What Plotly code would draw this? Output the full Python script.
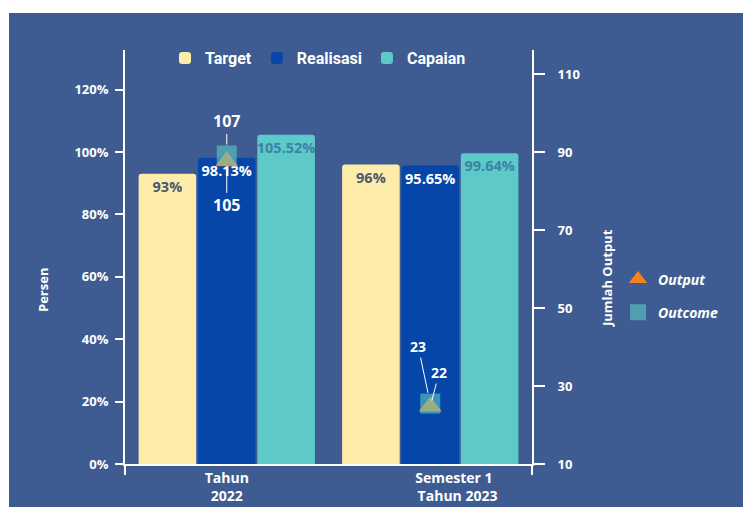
import plotly.graph_objects as go

# ---- data -------------------------------------------------------------
categories = ["Tahun 2022", "Semester 1 Tahun 2023"]
category_labels = [
    "Tahun<br>2022",
    "\u00a0" * 13 + "Semester 1<br>" + "\u00a0" * 15 + "Tahun 2023",
]
target = [93, 96]
realisasi = [98.13, 95.65]
capaian = [105.52, 99.64]
output_count = [105, 22]
outcome_count = [107, 23]
pct_ticks = [0, 20, 40, 60, 80, 100, 120]
count_ticks = [10, 30, 50, 70, 90, 110]

# ---- styling ----------------------------------------------------------
BG = "#3e5c92"
WHITE = "#ffffff"
FONT = "Open Sans"

W, H = 743, 507
ML, MR, MT, MB = 125, 211, 50, 43
PW, PH = W - ML - MR, H - MT - MB


def px_x(x):
    return (x - ML) / PW


def px_y(y):
    return (H - MB - y) / PH


fig = go.Figure()

bar_specs = [
    ("Target", target, "#feecaa", "#4a5873"),
    ("Realisasi", realisasi, "#0546a8", WHITE),
    ("Capaian", capaian, "#5dc9c8", "#3b83a2"),
]
for name, vals, color, txt in bar_specs:
    fig.add_trace(go.Bar(
        x=categories, y=vals, name=name,
        marker=dict(color=color, line=dict(width=0)),
        text=[f"{v:g}%" for v in vals],
        textposition="inside", insidetextanchor="end", textangle=0,
        constraintext="none",
        textfont=dict(family=FONT, size=14.5, color=txt, weight="bold"),
        legend="legend",
    ))

# the right-hand count axis carries no bars of its own
fig.add_trace(go.Scatter(
    x=[None], y=[None], yaxis="y2", mode="markers",
    showlegend=False, hoverinfo="skip",
))

fig.add_trace(go.Scatter(
    x=categories, y=output_count, name="Output", mode="markers",
    marker=dict(symbol="triangle-up", size=20, color="#f5821f", line=dict(width=0)),
    yaxis="y3", legend="legend2", legendgroup="out",
))
fig.add_trace(go.Scatter(
    x=categories, y=outcome_count, name="Outcome", mode="markers",
    marker=dict(symbol="square", size=20, color="#5dc9c8", opacity=0.6, line=dict(width=0)),
    yaxis="y3", legend="legend2", legendgroup="outc",
))

# value labels with leader lines for the markers
label_offsets = {
    ("out", 0): (0, 44, 9), ("outc", 0): (0, -34, 11),
    ("out", 1): (9, -34, 6), ("outc", 1): (-12, -57, 11),
}
annotations = []
for key, vals in (("out", output_count), ("outc", outcome_count)):
    for i, v in enumerate(vals):
        ax, ay, so = label_offsets[(key, i)]
        annotations.append(dict(
            x=i, y=v, xref="x", yref="y3", text=str(v),
            showarrow=True, arrowhead=0, arrowwidth=1, arrowcolor=WHITE,
            ax=ax, ay=ay, standoff=so,
            font=dict(family=FONT, size=16 if i == 0 else 14, color=WHITE, weight="bold"),
        ))

annotations += [
    dict(text="Persen", xref="paper", yref="paper", x=px_x(43), y=px_y(290),
         xanchor="center", yanchor="middle", textangle=-90, showarrow=False,
         font=dict(family=FONT, size=13, color=WHITE, weight="bold")),
    dict(text="Jumlah Output", xref="paper", yref="paper", x=px_x(607), y=px_y(278),
         xanchor="center", yanchor="middle", textangle=-90, showarrow=False,
         font=dict(family=FONT, size=13, color=WHITE, weight="bold")),
]

shapes = [
    # chart panel background
    dict(type="rect", xref="paper", yref="paper", layer="below",
         x0=px_x(9), x1=px_x(760), y0=px_y(520), y1=px_y(13),
         fillcolor=BG, line=dict(width=0)),
    # axis lines continuing below the baseline
    dict(type="line", xref="paper", yref="paper", x0=0, x1=0,
         y0=0, y1=px_y(475), line=dict(color=WHITE, width=2)),
    dict(type="line", xref="paper", yref="paper", x0=1, x1=1,
         y0=0, y1=px_y(475), line=dict(color=WHITE, width=2)),
]

axis_font = dict(family=FONT, size=13, color=WHITE, weight="bold")

fig.update_layout(
    width=W, height=H,
    margin=dict(l=ML, r=MR, t=MT, b=MB, pad=0, autoexpand=False),
    paper_bgcolor=WHITE, plot_bgcolor="rgba(0,0,0,0)",
    barmode="group", bargap=0.125, bargroupgap=0.03, barcornerradius=3,
    font=dict(family=FONT, color=WHITE),
    showlegend=True,
    xaxis=dict(
        type="category", tickvals=categories, ticktext=category_labels,
        tickangle=0, automargin=False,
        showline=True, linecolor=WHITE, linewidth=2, ticks="",
        showgrid=False, zeroline=False,
        tickfont=dict(family=FONT, size=14, color=WHITE, weight="bold"),
    ),
    yaxis=dict(
        range=[0, 132.7], tickvals=pct_ticks, ticktext=[f"{v}%" for v in pct_ticks],
        showline=True, linecolor=WHITE, linewidth=2,
        ticks="outside", ticklen=8, tickwidth=2, tickcolor=WHITE,
        ticklabelstandoff=4, automargin=False,
        showgrid=False, zeroline=False, tickfont=axis_font,
    ),
    yaxis2=dict(
        overlaying="y", side="right", anchor="x",
        range=[10, 116.15], tickvals=count_ticks,
        showline=True, linecolor=WHITE, linewidth=2,
        ticks="outside", ticklen=11, tickwidth=2, tickcolor=WHITE,
        ticklabelstandoff=10, automargin=False,
        showgrid=False, zeroline=False, tickfont=axis_font,
    ),
    yaxis3=dict(overlaying="y", anchor="x", range=[2.55, 142.7], visible=False),
    legend=dict(
        orientation="h", x=px_x(318), xanchor="center", y=px_y(58), yanchor="middle",
        bgcolor="rgba(0,0,0,0)", borderwidth=0,
        font=dict(family="Liberation Sans Narrow, Roboto", size=16, color=WHITE, weight="bold"),
        itemclick=False, itemdoubleclick=False,
    ),
    legend2=dict(
        orientation="v", x=px_x(618), xanchor="left", y=px_y(296), yanchor="middle",
        bgcolor="rgba(0,0,0,0)", borderwidth=0, tracegroupgap=12,
        font=dict(family=FONT, size=14, color=WHITE, weight="bold", style="italic"),
        itemclick=False, itemdoubleclick=False,
    ),
    annotations=annotations,
    shapes=shapes,
)

fig.write_html("out.html")
